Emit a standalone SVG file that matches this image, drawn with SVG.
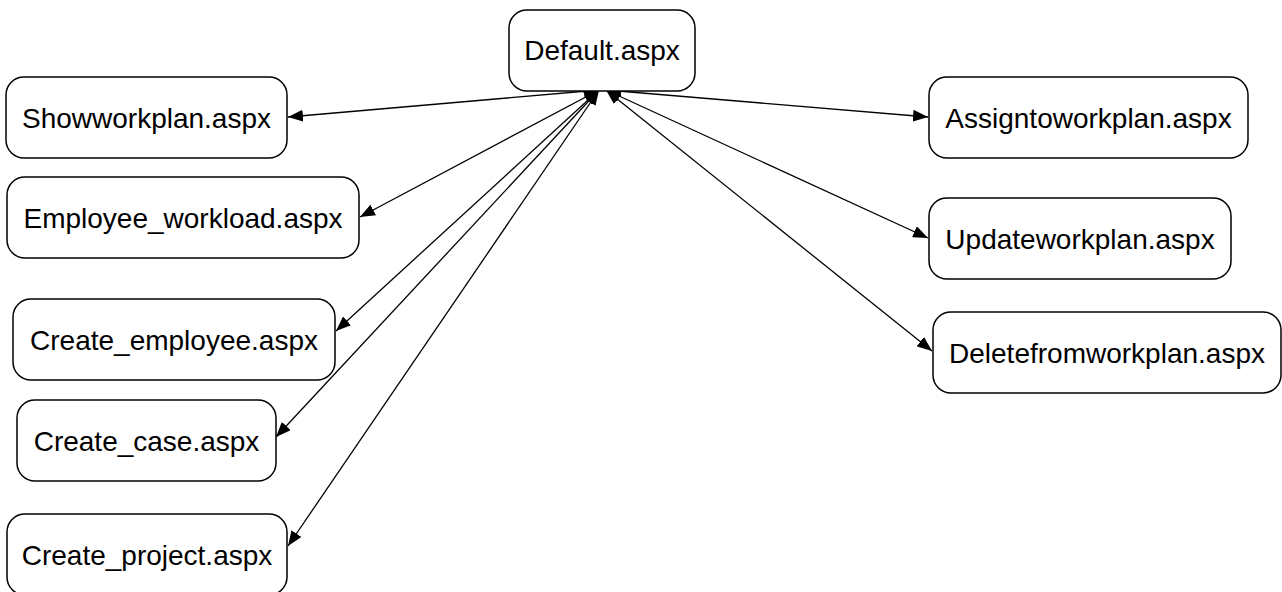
<svg xmlns="http://www.w3.org/2000/svg" width="1282" height="592" viewBox="0 0 1282 592">
<style>
.box{fill:#fff;stroke:#000;stroke-width:1.5}
.lbl{font-family:"Liberation Sans",Arial,sans-serif;font-size:28px;fill:#000;text-anchor:middle}
.edge{stroke:#000;stroke-width:1.3;fill:none;marker-start:url(#ah);marker-end:url(#ah)}
</style>
<defs>
<marker id="ah" markerUnits="userSpaceOnUse" markerWidth="16" markerHeight="12" refX="15" refY="6" orient="auto-start-reverse">
<path d="M0,0 L15,6 L0,12 z" fill="#000"/>
</marker>
</defs>
<rect width="1282" height="592" fill="#fff"/>
<g id="connectors">
<line class="edge" x1="599" y1="90" x2="288" y2="117"/>
<line class="edge" x1="599" y1="90" x2="360" y2="217"/>
<line class="edge" x1="599" y1="90" x2="336" y2="331"/>
<line class="edge" x1="599" y1="90" x2="276" y2="437"/>
<line class="edge" x1="599" y1="90" x2="288" y2="546"/>
<line class="edge" x1="606" y1="90" x2="928" y2="117"/>
<line class="edge" x1="606" y1="90" x2="928" y2="238"/>
<line class="edge" x1="606" y1="90" x2="932" y2="351"/>
</g>
<g id="default"><rect class="box" x="509" y="10" width="186" height="81" rx="18"/><text class="lbl" x="602" y="60">Default.aspx</text></g>
<g id="showworkplan"><rect class="box" x="6" y="77" width="281" height="81" rx="18"/><text class="lbl" x="146.5" y="127.5">Showworkplan.aspx</text></g>
<g id="employee_workload"><rect class="box" x="7" y="177" width="352" height="81" rx="18"/><text class="lbl" x="183" y="227.5">Employee_workload.aspx</text></g>
<g id="create_employee"><rect class="box" x="13" y="299" width="322" height="81" rx="18"/><text class="lbl" x="174" y="349.5">Create_employee.aspx</text></g>
<g id="create_case"><rect class="box" x="17" y="400" width="259" height="81" rx="18"/><text class="lbl" x="146.5" y="450.5">Create_case.aspx</text></g>
<g id="create_project"><rect class="box" x="7" y="514" width="280" height="81" rx="18"/><text class="lbl" x="147" y="564.5">Create_project.aspx</text></g>
<g id="assigntoworkplan"><rect class="box" x="929" y="77" width="319" height="81" rx="18"/><text class="lbl" x="1088.5" y="127.5">Assigntoworkplan.aspx</text></g>
<g id="updateworkplan"><rect class="box" x="929" y="198" width="302" height="81" rx="18"/><text class="lbl" x="1080" y="248.5">Updateworkplan.aspx</text></g>
<g id="deletefromworkplan"><rect class="box" x="933" y="312" width="348" height="81" rx="18"/><text class="lbl" x="1107" y="362.5">Deletefromworkplan.aspx</text></g>
</svg>
